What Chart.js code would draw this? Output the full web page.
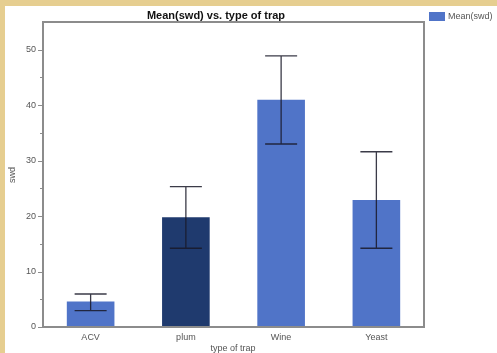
<!DOCTYPE html>
<html>
<head>
<meta charset="utf-8">
<script src="https://cdn.jsdelivr.net/npm/chart.js@4"></script>
<style>
html,body{margin:0;padding:0;background:#fff;}
#wrap{width:497px;height:353px;position:relative;}
</style>
</head>
<body>
<div id="wrap"><canvas id="c" width="497" height="353"></canvas></div>
<script>
const categories = ["ACV", "plum", "Wine", "Yeast"];
const meanValues = [4.6, 19.8, 41.0, 22.9];
const errLower = [2.95, 14.2, 33.0, 14.2];
const errUpper = [5.95, 25.3, 48.9, 31.6];
const yTickValues = [0, 10, 20, 30, 40, 50];
const barColors = ["#5074C8", "#1F3A6E", "#5074C8", "#5074C8"];

const font = "'Liberation Sans', Arial, sans-serif";

const decor = {
  id: 'decor',
  beforeDraw(chart) {
    const ctx = chart.ctx;
    ctx.save();
    ctx.fillStyle = '#E6CE90';
    ctx.fillRect(0, 0, chart.width, chart.height);
    ctx.fillStyle = '#ffffff';
    ctx.fillRect(5, 6, chart.width - 5, chart.height - 6);
    ctx.restore();
  },
  afterDatasetsDraw(chart) {
    const ctx = chart.ctx;
    const x = chart.scales.x, y = chart.scales.y;
    const a = chart.chartArea;
    ctx.save();
    // error bars
    ctx.strokeStyle = 'rgba(25,25,40,0.85)';
    ctx.lineWidth = 1.3;
    categories.forEach((c, i) => {
      const cx = x.getPixelForValue(i);
      const yl = y.getPixelForValue(errLower[i]);
      const yh = y.getPixelForValue(errUpper[i]);
      ctx.beginPath();
      ctx.moveTo(cx, yl); ctx.lineTo(cx, yh);
      ctx.moveTo(cx - 16, yl); ctx.lineTo(cx + 16, yl);
      ctx.moveTo(cx - 16, yh); ctx.lineTo(cx + 16, yh);
      ctx.stroke();
    });
    // plot box
    ctx.strokeStyle = '#8c8c8c';
    ctx.lineWidth = 2;
    ctx.strokeRect(a.left, a.top, a.right - a.left, a.bottom - a.top);
    // minor ticks
    ctx.lineWidth = 1;
    ctx.strokeStyle = '#8c8c8c';
    for (let v = 5; v < 55; v += 10) {
      const py = Math.round(y.getPixelForValue(v)) + 0.5;
      ctx.beginPath(); ctx.moveTo(a.left - 3, py); ctx.lineTo(a.left, py); ctx.stroke();
    }
    for (const v of yTickValues) {
      const py = Math.round(y.getPixelForValue(v)) + 0.5;
      ctx.beginPath(); ctx.moveTo(a.left - 5, py); ctx.lineTo(a.left, py); ctx.stroke();
    }
    // title
    ctx.fillStyle = '#111';
    ctx.font = 'bold 11px ' + font;
    ctx.textAlign = 'center';
    ctx.textBaseline = 'alphabetic';
    ctx.fillText('Mean(swd) vs. type of trap', 216, 19);
    // legend
    ctx.fillStyle = '#5074C8';
    ctx.fillRect(429, 12, 16, 9);
    ctx.fillStyle = '#555';
    ctx.font = '9px ' + font;
    ctx.textAlign = 'left';
    ctx.textBaseline = 'middle';
    ctx.fillText('Mean(swd)', 448, 16.5);
    // axis titles
    ctx.textAlign = 'center';
    ctx.fillText('type of trap', 233, 348.5);
    ctx.save();
    ctx.translate(12.5, 175);
    ctx.rotate(-Math.PI / 2);
    ctx.fillText('swd', 0, 0);
    ctx.restore();
    ctx.restore();
  }
};

new Chart(document.getElementById('c'), {
  type: 'bar',
  data: {
    labels: categories,
    datasets: [{
      label: 'Mean(swd)',
      data: meanValues,
      backgroundColor: barColors,
      borderWidth: 0,
      barPercentage: 0.5,
      categoryPercentage: 1.0
    }]
  },
  options: {
    responsive: false,
    animation: false,
    devicePixelRatio: 1,
    layout: { padding: { left: 0, top: 22, right: 73, bottom: 0 } },
    plugins: { legend: { display: false }, title: { display: false }, tooltip: { enabled: false } },
    scales: {
      x: {
        grid: { display: false, drawTicks: false },
        border: { display: false },
        ticks: { color: '#555', font: { family: font, size: 9 }, padding: 5, maxRotation: 0 },
        afterFit(s) { s.height = 26; }
      },
      y: {
        min: 0, max: 55,
        grid: { display: false, drawTicks: false },
        border: { display: false },
        afterBuildTicks(s) { s.ticks = yTickValues.map(v => ({ value: v })); },
        ticks: { color: '#555', font: { family: font, size: 9 }, padding: 7 },
        afterFit(s) { s.width = 43; }
      }
    }
  },
  plugins: [decor]
});
</script>
</body>
</html>
